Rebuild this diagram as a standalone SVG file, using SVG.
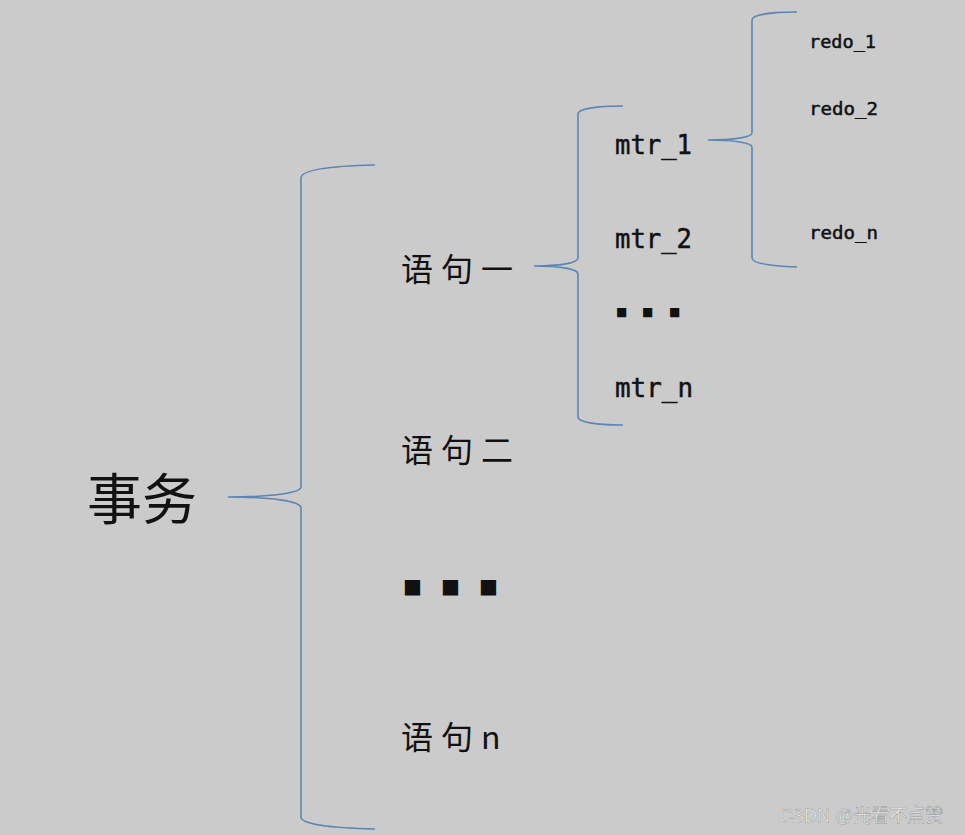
<svg xmlns="http://www.w3.org/2000/svg" width="965" height="835" viewBox="0 0 965 835">
<style>
.br{fill:none;stroke:#5a86b4;stroke-width:1.6}
.cjk{font-family:"Noto Sans CJK SC","Noto Sans",sans-serif;fill:#111}
.mono{font-family:"DejaVu Sans Mono","Liberation Mono",monospace;fill:#111;stroke:#111;stroke-width:0.5}
.dot{font-family:"DejaVu Sans","Noto Sans",sans-serif;fill:#111}
.wm{font-family:"Liberation Sans","Noto Sans CJK SC",sans-serif;font-size:18px;fill:#f4f4f4;stroke:#8f8f8f;stroke-width:0.45}
</style>
<rect width="965" height="835" fill="#cbcbcb"/>
<g id="connectors">
<path class="br" d="M375,165 C330,166 301,170 301,178 L301,487 C301,493 270,497 228,497 C270,497 301,501 301,508 L301,817 C301,824 330,828 375,829"/>
<path class="br" d="M623,106 C595,106 578,109 578,114 L578,258 C578,263 560,266 534,266 C560,266 578,269 578,274 L578,417 C578,422 595,425 623,425"/>
<path class="br" d="M797,12 C770,12 752,15 752,20 L752,133 C752,137 735,140 708,140 C735,140 752,143 752,147 L752,258 C752,263 770,266 797,267"/>
</g>
<g id="n-shiwu"><text class="cjk" x="87" y="519" font-size="55">事务</text></g>
<g id="n-yuju1"><text class="cjk" x="401" y="281" font-size="32" letter-spacing="8">语句一</text></g>
<g id="n-yuju2"><text class="cjk" x="401" y="462" font-size="32" letter-spacing="8">语句二</text></g>
<g id="n-dots1"><text class="dot" font-size="20" y="593"><tspan x="403">■</tspan><tspan x="441">■</tspan><tspan x="479">■</tspan></text></g>
<g id="n-yujun"><text class="cjk" x="401" y="749" font-size="32" letter-spacing="8">语句n</text></g>
<g id="n-mtr1"><text class="mono" x="615" y="154" font-size="27" textLength="77" lengthAdjust="spacingAndGlyphs">mtr_1</text></g>
<g id="n-mtr2"><text class="mono" x="615" y="248" font-size="27" textLength="77" lengthAdjust="spacingAndGlyphs">mtr_2</text></g>
<g id="n-dots2"><text class="dot" font-size="12" y="316"><tspan x="616">■</tspan><tspan x="642">■</tspan><tspan x="669">■</tspan></text></g>
<g id="n-mtrn"><text class="mono" x="615" y="397" font-size="27" textLength="78" lengthAdjust="spacingAndGlyphs">mtr_n</text></g>
<g id="n-redo1"><text class="mono" x="809" y="48" font-size="18" textLength="67" lengthAdjust="spacingAndGlyphs" stroke-width="0.4">redo_1</text></g>
<g id="n-redo2"><text class="mono" x="809" y="115" font-size="18" textLength="69" lengthAdjust="spacingAndGlyphs" stroke-width="0.4">redo_2</text></g>
<g id="n-redon"><text class="mono" x="809" y="239" font-size="18" textLength="69" lengthAdjust="spacingAndGlyphs" stroke-width="0.4">redo_n</text></g>
<text class="wm" x="779" y="822">CSDN @光看不点赞</text>
</svg>
